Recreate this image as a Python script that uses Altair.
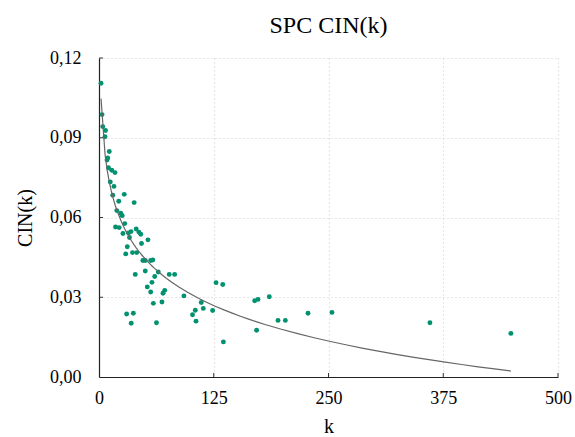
import altair as alt
import pandas as pd

# Data
k_vals = [2.2, 3.3, 4.1, 7.1, 6.5, 11.2, 9.5, 8.7, 10.3, 13.9,
          17.4, 12.3, 16.3, 15.0, 27.5, 21.5, 38.3, 19.4, 23.7, 25.3,
          28.1, 18.0, 22.0, 26.1, 32.1, 34.9, 40.5, 43.4, 45.5, 33.2,
          53.3, 46.3, 30.8, 29.1, 36.5, 41.1, 47.8, 50.4, 56.3, 58.6,
          64.6, 50.4, 39.5, 76.5, 82.4, 60.7, 57.7, 52.6, 56.3, 71.6,
          69.7, 92.5, 59.2, 68.6, 111.4, 113.6, 104.9, 123.8, 101.9, 105.7,
          30.1, 37.4, 35.1, 62.6, 127.5, 134.8, 135.5, 169.6, 173.2, 185.5,
          171.7, 195.0, 203.0, 227.7, 253.8, 360.5, 448.7]
cin_vals = [0.1105, 0.0987, 0.0942, 0.0927, 0.0904, 0.0848, 0.0824, 0.0816, 0.0787, 0.0778,
            0.0769, 0.0734, 0.0717, 0.0684, 0.0687, 0.0661, 0.0656, 0.0626, 0.0616, 0.0607,
            0.0577, 0.0564, 0.0562, 0.0540, 0.0542, 0.0547, 0.0557, 0.0545, 0.0537, 0.0525,
            0.0516, 0.0502, 0.0490, 0.0463, 0.0468, 0.0468, 0.0438, 0.0438, 0.0438, 0.0440,
            0.0395, 0.0399, 0.0386, 0.0386, 0.0386, 0.0378, 0.0356, 0.0339, 0.0320, 0.0326,
            0.0315, 0.0305, 0.0277, 0.0282, 0.0280, 0.0258, 0.0251, 0.0250, 0.0234, 0.0210,
            0.0237, 0.0240, 0.0202, 0.0204, 0.0355, 0.0348, 0.0132, 0.0287, 0.0292, 0.0302,
            0.0176, 0.0213, 0.0213, 0.0240, 0.0243, 0.0204, 0.0164]

x_ticks = [0, 125, 250, 375, 500]
y_ticks = [0.0, 0.03, 0.06, 0.09, 0.12]

df = pd.DataFrame({"k": k_vals, "cin": cin_vals})
xt = pd.DataFrame({"t": x_ticks[1:]})
yt = pd.DataFrame({"t": y_ticks[1:]})

W, H = 459, 319
FONT = "Liberation Serif"

xscale = alt.Scale(domain=[0, 500], nice=False, zero=False)
yscale = alt.Scale(domain=[0, 0.12], nice=False)

x_axis = alt.Axis(values=x_ticks, labelExpr="format(datum.value, 'd')", title="k",
                  grid=True, ticks=False, labelFlush=False, labelPadding=12, titlePadding=9)
y_axis = alt.Axis(values=y_ticks, labelExpr="replace(format(datum.value, '.2f'), '.', ',')",
                  title="CIN(k)", grid=True, ticks=False, labelFlush=False,
                  labelPadding=18, titlePadding=14)

base = alt.Chart(df)

points = base.mark_circle(size=24, opacity=1, color="#00916f").encode(
    x=alt.X("k:Q", scale=xscale, axis=x_axis),
    y=alt.Y("cin:Q", scale=yscale, axis=y_axis),
)

fit = base.transform_regression("k", "cin", method="log").mark_line(
    color="#666666", strokeWidth=1.2
).encode(x=alt.X("k:Q", scale=xscale), y=alt.Y("cin:Q", scale=yscale))

xticks = alt.Chart(xt).mark_rule(color="#333333", strokeWidth=1).encode(
    x=alt.X("t:Q", scale=xscale), y=alt.value(H), y2=alt.value(H - 4)
)
yticks = alt.Chart(yt).mark_rule(color="#333333", strokeWidth=1).encode(
    y=alt.Y("t:Q", scale=yscale), x=alt.value(0), x2=alt.value(4)
)

chart = alt.layer(points, fit, xticks, yticks).properties(
    width=W, height=H,
    title=alt.TitleParams("SPC CIN(k)", font=FONT, fontSize=24, fontWeight="normal",
                          color="black", anchor="middle", baseline="alphabetic",
                          offset=0, dy=8),
    padding={"left": 99, "top": 58, "right": 17, "bottom": 60},
    autosize=alt.AutoSizeParams(type="none"),
).configure_view(stroke=None).configure_axis(
    labelFont=FONT, labelFontSize=18, labelColor="black",
    titleFont=FONT, titleFontSize=20, titleFontWeight="normal", titleColor="black",
    domainColor="#222222", domainWidth=1.2,
    gridColor="#cccccc", gridDash=[1, 3], gridWidth=1,
)

chart.save("out.html", embed_options={"renderer": "svg", "actions": False})
